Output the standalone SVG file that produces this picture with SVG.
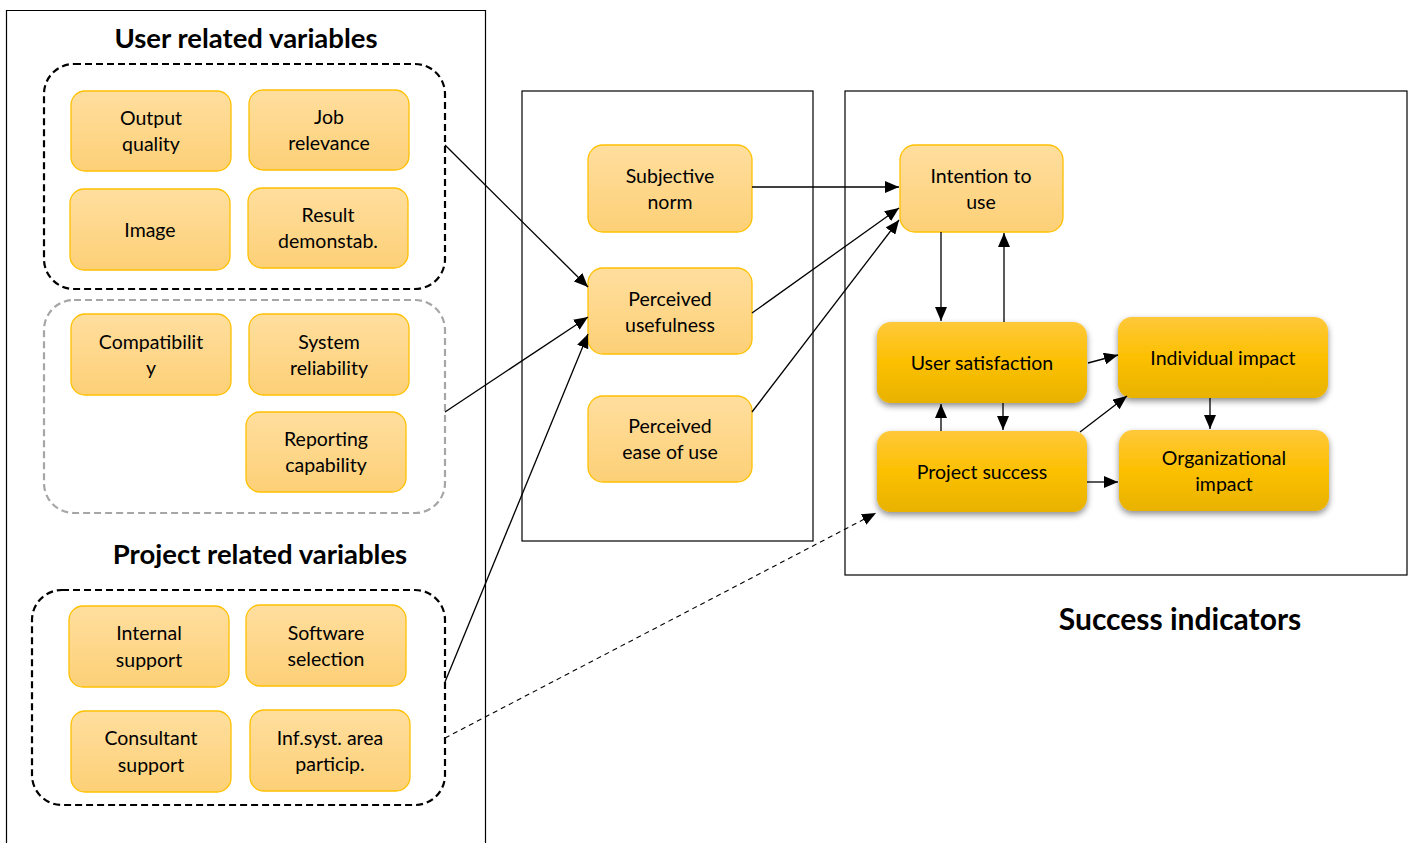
<svg xmlns="http://www.w3.org/2000/svg" width="1413" height="843" viewBox="0 0 1413 843">
<defs>
<linearGradient id="gl" x1="0" y1="0" x2="0" y2="1">
<stop offset="0" stop-color="#FFDE9E"/>
<stop offset="1" stop-color="#FDD077"/>
</linearGradient>
<linearGradient id="gd" x1="0" y1="0" x2="0" y2="1">
<stop offset="0" stop-color="#FFC83A"/>
<stop offset="0.5" stop-color="#FCC000"/>
<stop offset="1" stop-color="#E8B200"/>
</linearGradient>
<filter id="sh" x="-10%" y="-10%" width="120%" height="135%">
<feDropShadow dx="0" dy="3" stdDeviation="3" flood-color="#000" flood-opacity="0.45"/>
</filter>
<marker id="ah" markerUnits="userSpaceOnUse" markerWidth="15" markerHeight="12" refX="14" refY="6" orient="auto">
<path d="M0,0 L14,6 L0,12 z" fill="#000"/>
</marker>
</defs>
<style>
.frame{fill:none;stroke:#000;stroke-width:1.2}
.grp{fill:none;stroke:#000;stroke-width:2.2;stroke-dasharray:7,4}
.grpg{fill:none;stroke:#A6A6A6;stroke-width:2.2;stroke-dasharray:7,4}
.nl{fill:url(#gl);stroke:#FFC000;stroke-width:1.3}
.nd{fill:url(#gd);stroke:none;filter:url(#sh)}
.t{font-family:Lato,"Liberation Sans",sans-serif;font-size:19.5px;fill:#000;text-anchor:middle}
.h{font-family:Lato,"Liberation Sans",sans-serif;font-size:27.5px;font-weight:bold;fill:#000;text-anchor:middle}
.c{fill:none;stroke:#000;stroke-width:1.3}
.cd{fill:none;stroke:#000;stroke-width:1.1;stroke-dasharray:5,4}
</style>

<g id="frames">
<path class="frame" d="M6.5,843 V10.5 H485.5 V843"/>
<rect class="frame" x="522" y="91" width="291" height="450"/>
<rect class="frame" x="845" y="91" width="562" height="484"/>
</g>

<g id="titles">
<text class="h" x="246" y="48">User related variables</text>
<text class="h" x="260" y="564">Project related variables</text>
<text class="h" x="1180" y="630" style="font-size:30px">Success indicators</text>
</g>

<g id="groups">
<rect id="grp-user" class="grp" x="44" y="64" width="401" height="225" rx="30"/>
<rect id="grp-user2" class="grpg" x="44" y="300" width="401" height="213" rx="30"/>
<rect id="grp-project" class="grp" x="32" y="590" width="413" height="215" rx="30"/>
</g>

<g id="n-output"><rect class="nl" x="71" y="91" width="160" height="80" rx="14"/><text class="t" x="151" y="125">Output</text><text class="t" x="151" y="151">quality</text></g>
<g id="n-job"><rect class="nl" x="249" y="90" width="160" height="80" rx="14"/><text class="t" x="329" y="124">Job</text><text class="t" x="329" y="150">relevance</text></g>
<g id="n-image"><rect class="nl" x="70" y="189" width="160" height="81" rx="14"/><text class="t" x="150" y="237">Image</text></g>
<g id="n-result"><rect class="nl" x="248" y="188" width="160" height="80" rx="14"/><text class="t" x="328" y="222">Result</text><text class="t" x="328" y="248">demonstab.</text></g>

<g id="n-compat"><rect class="nl" x="71" y="314" width="160" height="81" rx="14"/><text class="t" x="151" y="349">Compatibilit</text><text class="t" x="151" y="375">y</text></g>
<g id="n-sysrel"><rect class="nl" x="249" y="314" width="160" height="81" rx="14"/><text class="t" x="329" y="349">System</text><text class="t" x="329" y="375">reliability</text></g>
<g id="n-report"><rect class="nl" x="246" y="412" width="160" height="80" rx="14"/><text class="t" x="326" y="446">Reporting</text><text class="t" x="326" y="472">capability</text></g>

<g id="n-internal"><rect class="nl" x="69" y="606" width="160" height="81" rx="14"/><text class="t" x="149" y="640">Internal</text><text class="t" x="149" y="667">support</text></g>
<g id="n-software"><rect class="nl" x="246" y="605" width="160" height="81" rx="14"/><text class="t" x="326" y="640">Software</text><text class="t" x="326" y="666">selection</text></g>
<g id="n-consult"><rect class="nl" x="71" y="711" width="160" height="81" rx="14"/><text class="t" x="151" y="745">Consultant</text><text class="t" x="151" y="772">support</text></g>
<g id="n-infsyst"><rect class="nl" x="250" y="710" width="160" height="81" rx="14"/><text class="t" x="330" y="745">Inf.syst. area</text><text class="t" x="330" y="771">particip.</text></g>

<g id="n-subj"><rect class="nl" x="588" y="145" width="164" height="87" rx="15"/><text class="t" x="670" y="183">Subjective</text><text class="t" x="670" y="209">norm</text></g>
<g id="n-pu"><rect class="nl" x="588" y="268" width="164" height="86" rx="15"/><text class="t" x="670" y="306">Perceived</text><text class="t" x="670" y="332">usefulness</text></g>
<g id="n-peou"><rect class="nl" x="588" y="396" width="164" height="86" rx="15"/><text class="t" x="670" y="433">Perceived</text><text class="t" x="670" y="459">ease of use</text></g>

<g id="n-intent"><rect class="nl" x="900" y="145" width="163" height="87" rx="15"/><text class="t" x="981" y="183">Intention to</text><text class="t" x="981" y="209">use</text></g>
<g id="n-usat"><rect class="nd" x="877" y="322" width="210" height="81" rx="14"/><text class="t" x="982" y="370">User satisfaction</text></g>
<g id="n-proj"><rect class="nd" x="877" y="431" width="210" height="81" rx="14"/><text class="t" x="982" y="479">Project success</text></g>
<g id="n-indiv"><rect class="nd" x="1118" y="317" width="210" height="81" rx="14"/><text class="t" x="1223" y="365">Individual impact</text></g>
<g id="n-org"><rect class="nd" x="1119" y="430" width="210" height="81" rx="14"/><text class="t" x="1224" y="465">Organizational</text><text class="t" x="1224" y="491">impact</text></g>

<g id="connectors">
<path class="c" d="M445,145 L588,287" marker-end="url(#ah)"/>
<path class="c" d="M445,412 L588,317" marker-end="url(#ah)"/>
<path class="c" d="M445,682 L588,334" marker-end="url(#ah)"/>
<path class="cd" d="M445,738 L876,513" marker-end="url(#ah)"/>
<path class="c" d="M752,187 L899,187" marker-end="url(#ah)"/>
<path class="c" d="M752,313 L899,208" marker-end="url(#ah)"/>
<path class="c" d="M752,412 L899,220" marker-end="url(#ah)"/>
<path class="c" d="M941,232 L941,321" marker-end="url(#ah)"/>
<path class="c" d="M1004,322 L1004,233" marker-end="url(#ah)"/>
<path class="c" d="M1088,363 L1118,355" marker-end="url(#ah)"/>
<path class="c" d="M941,431 L941,404" marker-end="url(#ah)"/>
<path class="c" d="M1003,403 L1003,430" marker-end="url(#ah)"/>
<path class="c" d="M1080,432 L1127,396" marker-end="url(#ah)"/>
<path class="c" d="M1210,398 L1210,429" marker-end="url(#ah)"/>
<path class="c" d="M1087,482 L1118,482" marker-end="url(#ah)"/>
</g>
</svg>
